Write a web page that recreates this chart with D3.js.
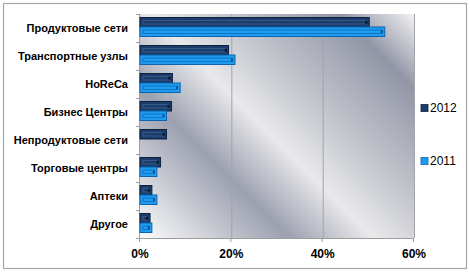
<!DOCTYPE html>
<html>
<head>
<meta charset="utf-8">
<script src="https://cdn.jsdelivr.net/npm/d3@7"></script>
<style>
  body { margin: 0; background: #fff; }
  svg { display: block; }
</style>
</head>
<body>
<div class="chart"></div>
<script>
var categories = ["Продуктовые сети", "Транспортные узлы", "HoReCa", "Бизнес Центры",
                  "Непродуктовые сети", "Торговые центры", "Аптеки", "Другое"];
var seriesNames = ["2012", "2011"];
var values2012 = [50.2, 19.4, 7.1, 6.9, 5.8, 4.5, 2.6, 2.2];
var values2011 = [53.6, 20.8, 8.8, 5.8, 0, 3.7, 3.7, 2.6];
var tickValues = [0, 20, 40, 60];
var tickLabels = ["0%", "20%", "40%", "60%"];

var width = 470, height = 272;
var margin = {top: 14, right: 56, bottom: 34, left: 140};

var svg = d3.select(".chart").append("svg").attr("width", width).attr("height", height);
var defs = svg.append("defs");

// outer frame
svg.append("rect")
    .attr("x", 3.5).attr("y", 3.5)
    .attr("width", width - 7).attr("height", height - 7)
    .attr("fill", "#fff").attr("stroke", "#a6a6a6").attr("stroke-width", 1.2);

var x = d3.scaleLinear().domain([0, 60]).range([margin.left, width - margin.right]);
var y = d3.scaleBand().domain(categories).range([margin.top, height - margin.bottom]);
var ys = d3.scaleBand().domain(seriesNames).range([3.5, 22.5]);

var x0 = x.range()[0], x1 = x.range()[1], y0 = y.range()[0], y1 = y.range()[1];

// silver diagonal gradient of the plot area
var u0 = x0 - y1, u1 = x1 - y0, half = (u1 - u0) / 2;
var grad = defs.append("linearGradient").attr("id", "silver")
    .attr("gradientUnits", "userSpaceOnUse")
    .attr("x1", x0).attr("y1", y1)
    .attr("x2", x0 + half).attr("y2", y1 - half);
[[0, "#fbfbfc"], [0.07, "#e6e7ea"], [0.3, "#9ca0af"], [0.47, "#e9e9eb"],
 [0.6, "#c9cbd1"], [0.85, "#9296a6"], [1, "#f2f2f3"]].forEach(function(s) {
  grad.append("stop").attr("offset", s[0]).attr("stop-color", s[1]);
});

svg.append("rect")
    .attr("x", x0).attr("y", y0)
    .attr("width", x1 - x0).attr("height", y1 - y0)
    .attr("fill", "url(#silver)");

// vertical gridlines
svg.append("g").selectAll("line")
    .data(tickValues.slice(1))
    .enter().append("line")
      .attr("x1", function(d) { return x(d) + 0.5; })
      .attr("x2", function(d) { return x(d) + 0.5; })
      .attr("y1", y0).attr("y2", y1)
      .attr("stroke", "#a3a3a8").attr("stroke-width", 1);

// axes
var axisColor = "#9c9c9c";
svg.append("line")
    .attr("x1", x0 - 0.5).attr("x2", x0 - 0.5).attr("y1", y0).attr("y2", y1 + 4)
    .attr("stroke", axisColor);
svg.append("line")
    .attr("x1", x0 - 4).attr("x2", x1).attr("y1", y1 + 0.5).attr("y2", y1 + 0.5)
    .attr("stroke", axisColor);

var bounds = categories.map(function(c) { return y(c); });
svg.append("g").selectAll("line")
    .data(bounds)
    .enter().append("line")
      .attr("x1", x0 - 4).attr("x2", x0)
      .attr("y1", function(d) { return Math.round(d) + 0.5; })
      .attr("y2", function(d) { return Math.round(d) + 0.5; })
      .attr("stroke", axisColor);

svg.append("g").selectAll("line")
    .data(tickValues)
    .enter().append("line")
      .attr("x1", function(d) { return x(d) - 0.5; })
      .attr("x2", function(d) { return x(d) - 0.5; })
      .attr("y1", y1).attr("y2", y1 + 4)
      .attr("stroke", axisColor);

// category labels
svg.append("g").selectAll("text")
    .data(categories)
    .enter().append("text")
      .attr("x", x0 - 12)
      .attr("y", function(d) { return y(d) + y.bandwidth() / 2; })
      .attr("dy", "0.36em")
      .attr("text-anchor", "end")
      .style("font", "bold 11px 'Liberation Sans', Arial, sans-serif")
      .style("fill", "#000")
      .text(function(d) { return d; });

// x tick labels
svg.append("g").selectAll("text")
    .data(tickValues)
    .enter().append("text")
      .attr("x", function(d) { return x(d); })
      .attr("y", y1 + 16)
      .attr("dy", "0.36em")
      .attr("text-anchor", "middle")
      .style("font", "bold 12px 'Liberation Sans', Arial, sans-serif")
      .text(function(d, i) { return tickLabels[i]; });

// bars
var styles = {
  "2012": {fill: "#1c3c6a", edge: "#0c2142", inner: "#35598a", dot: "#08162e"},
  "2011": {fill: "#1d9cf0", edge: "#0b64b0", inner: "#1173c4", dot: "#0a4f8e"}
};

var rows = [];
categories.forEach(function(c, i) {
  rows.push({cat: c, series: "2012", value: values2012[i]});
  rows.push({cat: c, series: "2011", value: values2011[i]});
});

var bar = svg.append("g").selectAll("g")
    .data(rows.filter(function(d) { return d.value > 0; }))
    .enter().append("g");

bar.append("rect")
    .attr("x", x0)
    .attr("y", function(d) { return y(d.cat) + ys(d.series); })
    .attr("width", function(d) { return x(d.value) - x0; })
    .attr("height", ys.bandwidth())
    .attr("fill", function(d) { return styles[d.series].fill; })
    .attr("stroke", function(d) { return styles[d.series].edge; })
    .attr("stroke-width", 1);

bar.append("rect")
    .attr("x", x0 + 3)
    .attr("y", function(d) { return y(d.cat) + ys(d.series) + 3; })
    .attr("width", function(d) { return Math.max(1, x(d.value) - x0 - 6); })
    .attr("height", ys.bandwidth() - 6)
    .attr("fill", "none")
    .attr("stroke", function(d) { return styles[d.series].inner; })
    .attr("stroke-width", 1);

bar.append("rect")
    .attr("x", function(d) { return x(d.value) - 4; })
    .attr("y", function(d) { return y(d.cat) + ys(d.series) + ys.bandwidth() / 2 - 1.5; })
    .attr("width", 2).attr("height", 3)
    .attr("fill", function(d) { return styles[d.series].dot; });

// legend
var legend = svg.append("g").selectAll("g")
    .data(seriesNames)
    .enter().append("g")
      .attr("transform", function(d, i) { return "translate(" + (x1 + 7) + "," + (108 + i * 53) + ")"; });

legend.append("rect")
    .attr("x", 0).attr("y", -3.5)
    .attr("width", 7).attr("height", 7)
    .attr("fill", function(d) { return styles[d].fill; })
    .attr("stroke", function(d) { return styles[d].edge; })
    .attr("stroke-width", 0.8);

legend.append("text")
    .attr("x", 9)
    .attr("dy", "0.36em")
    .style("font", "12px 'Liberation Sans', Arial, sans-serif")
    .text(function(d) { return d; });
</script>
</body>
</html>
